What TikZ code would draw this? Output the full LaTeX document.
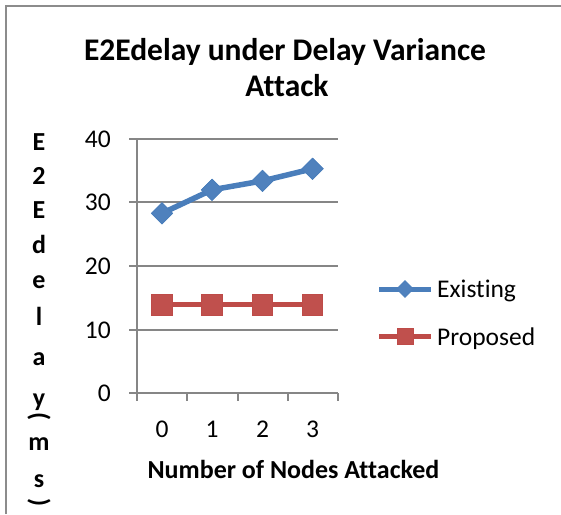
\documentclass[tikz,border=0pt]{standalone}
\usepackage{fontspec}
\usepackage{graphicx}
\setmainfont{Carlito}[Ligatures={NoCommon}]
\usetikzlibrary{shapes.geometric}

\definecolor{framegray}{HTML}{8C8C8C}
\definecolor{gridgray}{HTML}{868686}
\definecolor{serblue}{HTML}{4A7EBB}
\definecolor{mkblue}{HTML}{4F81BD}
\definecolor{serred}{HTML}{BE4B48}
\definecolor{mkred}{HTML}{C0504D}

\tikzset{
  grid line/.style={draw=gridgray, line width=2pt},
  ticklabel/.style={inner sep=0pt, font=\fontsize{25.5}{30}\selectfont},
  axistitle/.style={inner sep=0pt, font=\fontsize{26}{31}\selectfont\bfseries},
  titletext/.style={inner sep=0pt, font=\fontsize{31.5}{38}\selectfont\bfseries},
  legendtext/.style={inner sep=0pt, anchor=base west, font=\fontsize{25.5}{30}\selectfont},
  bluemark/.style={diamond, fill=mkblue, draw=serblue, line width=0.6pt, inner sep=0pt, minimum size=#1},
  redmark/.style={rectangle, fill=mkred, draw=serred, line width=0.6pt, inner sep=0pt, minimum size=#1},
  blueline/.style={draw=serblue, line width=5.5pt},
  redline/.style={draw=serred, line width=5pt},
}

\begin{document}
\begin{tikzpicture}[x=1pt, y=-1pt]
\useasboundingbox (0,0) rectangle (561,514);

% chart frame (only the top and left edges are inside the page)
\draw[framegray, line width=2pt] (5.5,514) -- (5.5,5.5) -- (561,5.5);

% title
\node[titletext, anchor=base] (title1) at (285,60) {E2Edelay under Delay Variance};
\node[titletext, anchor=base] (title2) at (287,96) {Attack};

% horizontal grid lines with their ticks on the value axis
\foreach \v/\yy in {0/393.3, 10/329.7, 20/265.7, 30/202, 40/139} {
  \draw[grid line] (129,\yy) -- (338,\yy);
  \node[ticklabel, anchor=base east] (ylab\v) at (111,\yy+8.5) {\v};
}
% value axis line
\draw[grid line] (137,139) -- (137,401);
% category ticks
\foreach \xx in {187.3, 237.5, 287.7, 338} {
  \draw[grid line] (\xx,393.3) -- (\xx,401);
}
% category labels
\foreach \c/\xx in {0/162, 1/212, 2/262.5, 3/312.5} {
  \node[ticklabel, anchor=base] (xlab\c) at (\xx,437) {\c};
}

% axis titles
\node[axistitle, anchor=base] (xtitle) at (293.5,478) {Number of Nodes Attacked};
\foreach \ch/\yy [count=\i] in {E/150, 2/184, E/218, d/253, e/288, l/325, a/365, y/406, m/450, s/487} {
  \node[axistitle, anchor=base] (yt\i) at (39,\yy) {\ch};
}
% stacked parentheses lie on their side
\node[axistitle] (ytopen) at (39,417) {\rotatebox{-90}{(}};
\node[axistitle] (ytclose) at (39,503) {\rotatebox{-90}{)}};

% Existing series
\node[bluemark=21.5pt] (e0) at (162,213.3) {};
\node[bluemark=21.5pt] (e1) at (212,189.8) {};
\node[bluemark=21.5pt] (e2) at (262.5,180.9) {};
\node[bluemark=21.5pt] (e3) at (312.5,168.8) {};
\draw[blueline] (e0.center) -- (e1.center) -- (e2.center) -- (e3.center);
\foreach \n in {e0,e1,e2,e3} { \node[bluemark=21.5pt] at (\n) {}; }

% Proposed series
\node[redmark=20.5pt] (p0) at (162,304.9) {};
\node[redmark=20.5pt] (p1) at (212,304.9) {};
\node[redmark=20.5pt] (p2) at (262.5,304.9) {};
\node[redmark=20.5pt] (p3) at (312.5,304.9) {};
\draw[redline] (p0.center) -- (p1.center) -- (p2.center) -- (p3.center);
\foreach \n in {p0,p1,p2,p3} { \node[redmark=20.5pt] at (\n) {}; }

% legend
\coordinate (lea) at (379,289);
\coordinate (leb) at (431,289);
\draw[blueline, line width=5pt] (lea) -- (leb);
\node[bluemark=17pt] (lem) at (405,289) {};
\node[legendtext] (letext) at (437,297.5) {Existing};

\coordinate (lpa) at (379,336.5);
\coordinate (lpb) at (431,336.5);
\draw[redline] (lpa) -- (lpb);
\node[redmark=16pt] (lpm) at (405,336.5) {};
\node[legendtext] (lptext) at (437,345) {Proposed};
\end{tikzpicture}
\end{document}
